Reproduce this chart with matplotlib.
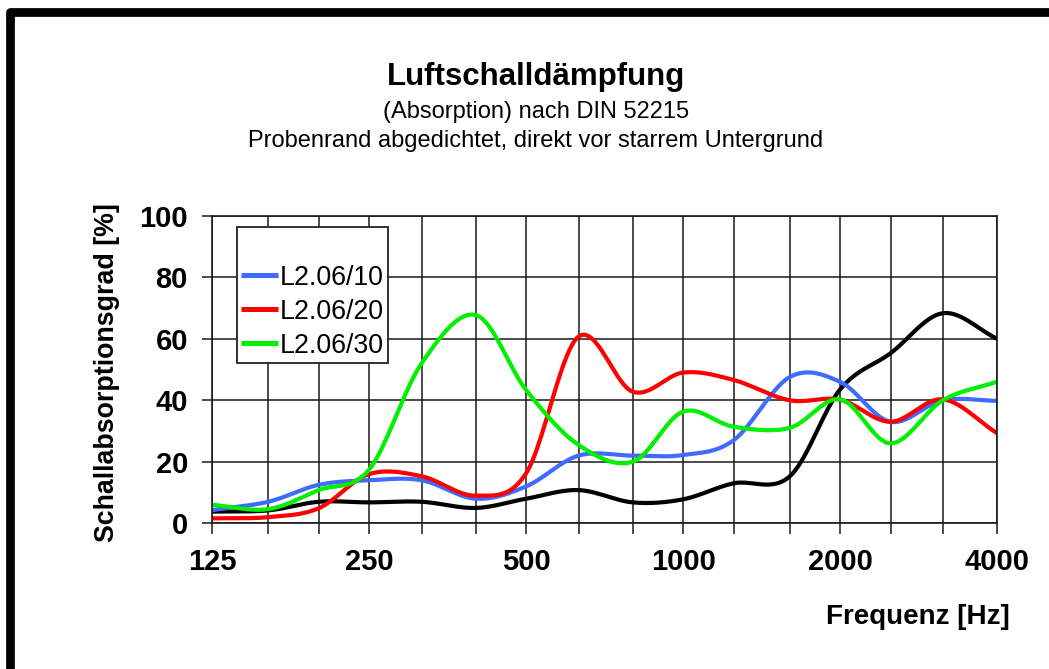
import numpy as np
import matplotlib
matplotlib.use('Agg')
import matplotlib.pyplot as plt
from matplotlib.lines import Line2D
from matplotlib.ticker import FixedLocator, FixedFormatter, NullFormatter

plt.rcParams['font.family'] = ['Liberation Sans', 'DejaVu Sans']

# ---------------- data ----------------
freqs = [125, 160, 200, 250, 315, 400, 500, 630, 800, 1000, 1250, 1600, 2000, 2500, 3150, 4000]
tick_freqs = [125, 250, 500, 1000, 2000, 4000]
tick_labels = ['125', '250', '500', '1000', '2000', '4000']
y_ticks = [0, 20, 40, 60, 80, 100]

reference = [3.8, 4.2, 7.0, 6.8, 7.0, 5.0, 8.0, 10.8, 6.8, 7.8, 13.0, 15.2, 43.5, 55.3, 68.3, 60.0]
l2_06_10 = [4.3, 7.0, 12.5, 14.0, 14.0, 8.0, 12.0, 22.0, 22.0, 22.2, 27.0, 47.5, 46.0, 33.0, 40.0, 39.8]
l2_06_20 = [1.6, 2.0, 4.9, 16.0, 15.3, 9.0, 16.3, 60.7, 42.8, 49.0, 46.6, 40.0, 40.2, 33.0, 40.3, 29.3]
l2_06_30 = [6.0, 4.6, 10.8, 17.5, 52.0, 67.7, 43.3, 25.5, 20.0, 36.3, 31.4, 31.0, 40.3, 26.0, 40.0, 46.0]

series_labels = ['L2.06/10', 'L2.06/20', 'L2.06/30']
series_colors = ['#3f6cff', '#ff0000', '#00f000']

title = 'Luftschalldämpfung'
subtitle1 = '(Absorption) nach DIN 52215'
subtitle2 = 'Probenrand abgedichtet, direkt vor starrem Untergrund'
xlabel = 'Frequenz [Hz]'
ylabel = 'Schallabsorptionsgrad [%]'


def smooth(xs, ys, n=24):
    """Catmull-Rom smoothed path through the data points (drawing only)."""
    P = np.column_stack([np.log(np.asarray(xs, float)), np.asarray(ys, float)])
    Pe = np.vstack([2 * P[0] - P[1], P, 2 * P[-1] - P[-2]])
    t = np.linspace(0, 1, n, endpoint=False)[:, None]
    parts = []
    for i in range(1, len(P)):
        p0, p1, p2, p3 = Pe[i - 1], Pe[i], Pe[i + 1], Pe[i + 2]
        seg = 0.5 * (2 * p1 + (-p0 + p2) * t + (2 * p0 - 5 * p1 + 4 * p2 - p3) * t ** 2
                     + (-p0 + 3 * p1 - 3 * p2 + p3) * t ** 3)
        parts.append(seg)
    parts.append(P[-1:])
    out = np.vstack(parts)
    return np.exp(out[:, 0]), out[:, 1]


W, H = 1049, 669
fig = plt.figure(figsize=(W / 100, H / 100), dpi=100)
fig.patch.set_facecolor('white')

ax_l, ax_r, ax_t, ax_b = 212.3, 997.0, 215.7, 523.3
ax = fig.add_axes([ax_l / W, 1 - ax_b / H, (ax_r - ax_l) / W, (ax_b - ax_t) / H])

lw_curve = 3.0
x, y = smooth(freqs, reference)
ax.plot(x, y, color='black', lw=lw_curve, solid_capstyle='butt')
for vals, c in zip([l2_06_10, l2_06_20, l2_06_30], series_colors):
    x, y = smooth(freqs, vals)
    ax.plot(x, y, color=c, lw=lw_curve, solid_capstyle='butt')

ax.set_xscale('log')
ax.set_xlim(freqs[0], freqs[-1])
ax.set_ylim(0, 100)
ax.xaxis.set_major_locator(FixedLocator(tick_freqs))
ax.xaxis.set_major_formatter(FixedFormatter(tick_labels))
ax.xaxis.set_minor_locator(FixedLocator([f for f in freqs if f not in tick_freqs]))
ax.xaxis.set_minor_formatter(NullFormatter())
ax.set_yticks(y_ticks)
ax.set_yticklabels([str(v) for v in y_ticks])

grid_c = '#1a1a1a'
ax.set_axisbelow(True)
ax.grid(True, which='both', axis='x', color=grid_c, lw=1.1)
ax.grid(True, which='major', axis='y', color=grid_c, lw=1.1)
for sp in ax.spines.values():
    sp.set_color(grid_c)
    sp.set_linewidth(1.2)

ax.tick_params(axis='x', which='both', direction='out', length=8, width=1.1, color=grid_c, pad=10)
ax.tick_params(axis='y', which='major', direction='out', length=7.5, width=1.1, color=grid_c, pad=10)
for lab in ax.get_xticklabels() + ax.get_yticklabels():
    lab.set_fontsize(21)
    lab.set_fontweight('bold')

ax.set_xlabel(xlabel, fontsize=20, fontweight='bold')
ax.xaxis.set_label_coords(0.8987, -0.263)
ax.set_ylabel(ylabel, fontsize=19.3, fontweight='bold')
ax.yaxis.set_label_coords(-0.118, 0.49)

# legend (first row empty, as in the reference)
blank = Line2D([], [], color='none')
handles = [blank] + [Line2D([], [], color=c, lw=lw_curve + 0.6, solid_capstyle='butt') for c in series_colors]
leg = ax.legend(handles, [''] + series_labels, loc='upper left',
                bbox_to_anchor=(0.0311, 0.9642), borderaxespad=0,
                prop=dict(size=19.3), frameon=True, fancybox=False,
                edgecolor='#222222', framealpha=1, borderpad=0.15,
                labelspacing=0.3, handlelength=1.4, handletextpad=0.05)
leg.get_frame().set_linewidth(1.3)

# titles
fig.text(536 / W, 1 - 85 / H, title, ha='center', va='baseline', fontsize=22.5, fontweight='bold')
fig.text(536 / W, 1 - 118.3 / H, subtitle1, ha='center', va='baseline', fontsize=17)
fig.text(536 / W, 1 - 146.7 / H, subtitle2, ha='center', va='baseline', fontsize=17)

# page frame (left and top)
fig.add_artist(Line2D([9.65 / W, 9.65 / W, 1.0], [0.0, 1 - 12.15 / H, 1 - 12.15 / H],
                      transform=fig.transFigure, color='black', lw=6.3,
                      solid_joinstyle='round', solid_capstyle='butt'))

fig.savefig('out.png', dpi=100)
